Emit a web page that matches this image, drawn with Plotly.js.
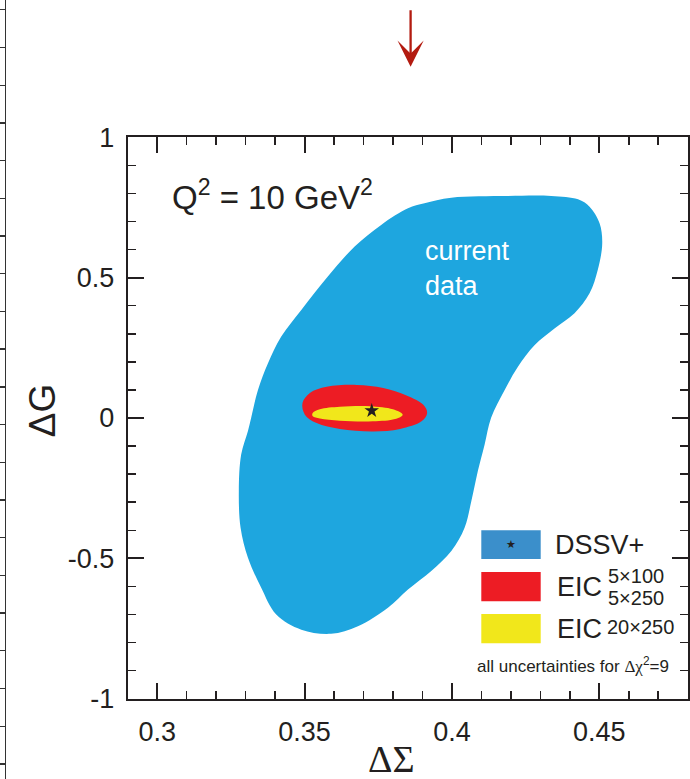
<!DOCTYPE html>
<html><head><meta charset="utf-8">
<script src="https://cdn.plot.ly/plotly-3.0.1.min.js"></script>
<style>html,body{margin:0;padding:0;background:#fff}</style>
</head><body><div id="chart" style="width:690px;height:779px"></div>
<script>
// DSSV+ current-data uncertainty region (Delta Sigma, Delta G)
const blobX = [0.3851,0.3760,0.3670,0.3579,0.3489,0.3421,0.3376,0.3342,0.3319,0.3308,0.3285,0.3277,0.3283,0.3308,0.3353,0.3404,0.3489,0.3590,0.3681,0.3783,0.3851,0.3930,0.3998,0.4043,0.4066,0.4088,0.4111,0.4133,0.4179,0.4224,0.4281,0.4348,0.4416,0.4467,0.4495,0.4510,0.4501,0.4467,0.4428,0.4337,0.4190,0.3998,0.3907,0.3851];
const blobY = [0.747,0.688,0.611,0.504,0.385,0.290,0.195,0.100,0.001,-0.046,-0.130,-0.260,-0.391,-0.498,-0.605,-0.700,-0.754,-0.769,-0.742,-0.676,-0.611,-0.545,-0.474,-0.391,-0.296,-0.189,-0.094,0.001,0.100,0.183,0.260,0.319,0.373,0.444,0.528,0.622,0.694,0.753,0.779,0.791,0.791,0.785,0.765,0.747];
// EIC 5x100 / 5x250 region
const redX = [0.3493,0.3518,0.3575,0.3677,0.3767,0.3846,0.3903,0.3916,0.3897,0.3824,0.3733,0.3620,0.3541,0.3501,0.3493];
const redY = [0.053,0.089,0.111,0.118,0.107,0.080,0.047,0.018,-0.012,-0.039,-0.048,-0.039,-0.018,0.012,0.053];
// EIC 20x250 region
const yellowX = [0.3527,0.3552,0.3620,0.3722,0.3800,0.3833,0.3807,0.3732,0.3620,0.3552,0.3528,0.3527];
const yellowY = [0.017,0.031,0.040,0.042,0.031,0.012,-0.004,-0.012,-0.010,-0.002,0.006,0.017];
// best fit
const starX = [0.3728];
const starY = [0.026];

const xTickVals = [0.3,0.35,0.4,0.45];
const xTickText = ['0.3','0.35','0.4','0.45'];
const yTickVals = [-1,-0.5,0,0.5,1];
const yTickText = ['-1','-0.5','0','0.5','1'];

const seriesNames = ['DSSV+','EIC 5×100 / 5×250','EIC 20×250'];
const colBlue = '#1ea6df', colRed = '#ed1c24', colYellow = '#f1e71b', colLegBlue = '#3b8fcb';
const ink = '#231f20';
const FONT = 'Liberation Sans, Arial, Helvetica, sans-serif';

const W = 690, H = 779;
const px = v => v / W;
const py = v => 1 - v / H;

const traces = [
  {x: blobX, y: blobY, type:'scatter', mode:'lines', fill:'toself', fillcolor: colBlue,
   line:{width:0, shape:'spline', smoothing:1, color: colBlue}, name: seriesNames[0], hoverinfo:'skip'},
  {x: redX, y: redY, type:'scatter', mode:'lines', fill:'toself', fillcolor: colRed,
   line:{width:0, shape:'spline', smoothing:1, color: colRed}, name: seriesNames[1], hoverinfo:'skip'},
  {x: yellowX, y: yellowY, type:'scatter', mode:'lines', fill:'toself', fillcolor: colYellow,
   line:{width:0, shape:'spline', smoothing:1, color: colYellow}, name: seriesNames[2], hoverinfo:'skip'},
  {x: starX, y: starY, type:'scatter', mode:'markers', marker:{symbol:'star', size:11, color: ink}, name:'best fit'},
  // fragment of the neighbouring panel's axis at the left edge
  {x: [], y: [], type:'scatter', xaxis:'x2', yaxis:'y2', showlegend:false}
];

const axisCommon = {
  showline:true, linewidth:2, linecolor: ink, mirror:'ticks', showgrid:false, zeroline:false,
  ticks:'inside', ticklen:16, tickwidth:2, tickcolor: ink,
  tickfont:{family: FONT, size:27, color: ink}, tickmode:'array'
};

const layout = {
  width: W, height: H, margin:{l:0,r:0,t:0,b:0}, paper_bgcolor:'#fff', plot_bgcolor:'rgba(0,0,0,0)',
  showlegend:false,
  xaxis: Object.assign({}, axisCommon, {
    domain:[px(127.7), px(687.7)], range:[0.29,0.48], tickvals: xTickVals, ticktext: xTickText,
    ticklabelstandoff: 8,
    minor:{tickmode:'linear', tick0:0.29, dtick:0.01, ticks:'inside', ticklen:8, tickwidth:1.5, tickcolor: ink, showgrid:false}
  }),
  yaxis: Object.assign({}, axisCommon, {
    domain:[py(698.7), py(137.3)], range:[-1,1], tickvals: yTickVals, ticktext: yTickText,
    ticklabelstandoff: 6,
    minor:{tickmode:'linear', tick0:-1, dtick:0.1, ticks:'inside', ticklen:8, tickwidth:1.5, tickcolor: ink, showgrid:false}
  }),
  xaxis2: {domain:[px(6), px(20)], visible:false, anchor:'y2', range:[0,1]},
  yaxis2: {domain:[0,1], anchor:'x2', side:'left', range:[-0.40, 20.26], dtick:1, tick0:0, tickmode:'linear',
    showline:true, linewidth:1.3, linecolor:'#333', ticks:'outside', ticklen:6, tickwidth:1.3, tickcolor:'#333',
    showticklabels:false, showgrid:false, zeroline:false},
  shapes: [
    {type:'rect', xref:'paper', yref:'paper', x0:px(481.3), x1:px(540.7), y0:py(559), y1:py(530.3), fillcolor: colLegBlue, line:{width:0}},
    {type:'rect', xref:'paper', yref:'paper', x0:px(481.3), x1:px(540.7), y0:py(601.3), y1:py(572), fillcolor: colRed, line:{width:0}},
    {type:'rect', xref:'paper', yref:'paper', x0:px(481.3), x1:px(540.7), y0:py(643.3), y1:py(614), fillcolor: colYellow, line:{width:0}}
  ],
  annotations: [
    {xref:'paper', yref:'paper', x:px(42.5), y:py(410.7), text:'ΔG', textangle:-90, showarrow:false,
     xanchor:'center', yanchor:'middle', font:{family: FONT, size:37, color: ink}},
    {xref:'paper', yref:'paper', x:px(391.7), y:py(759), text:'ΔΣ', showarrow:false,
     xanchor:'center', yanchor:'middle', font:{family:'Liberation Serif, Times New Roman, serif', size:38, color: ink}},
    {xref:'paper', yref:'paper', x:px(170), y:py(195), text:'Q<sup>2</sup> = 10 GeV<sup>2</sup>', showarrow:false,
     xanchor:'left', yanchor:'middle', font:{family: FONT, size:33, color: ink}},
    {xref:'paper', yref:'paper', x:px(423), y:py(268), text:'current<br>data', showarrow:false, align:'left',
     xanchor:'left', yanchor:'middle', font:{family: FONT, size:27, color:'#ffffff'}},
    {xref:'paper', yref:'paper', x:px(511.3), y:py(544.7), text:'★', showarrow:false,
     xanchor:'center', yanchor:'middle', font:{family:'DejaVu Sans', size:11, color: ink}},
    {xref:'paper', yref:'paper', x:px(553), y:py(544.7), text:'DSSV+', showarrow:false,
     xanchor:'left', yanchor:'middle', font:{family: FONT, size:27, color: ink}},
    {xref:'paper', yref:'paper', x:px(555), y:py(587), text:'EIC', showarrow:false,
     xanchor:'left', yanchor:'middle', font:{family: FONT, size:27, color: ink}},
    {xref:'paper', yref:'paper', x:px(605.5), y:py(575.5), text:'5×100', showarrow:false,
     xanchor:'left', yanchor:'middle', font:{family: FONT, size:20, color: ink}},
    {xref:'paper', yref:'paper', x:px(605.5), y:py(597.5), text:'5×250', showarrow:false,
     xanchor:'left', yanchor:'middle', font:{family: FONT, size:20, color: ink}},
    {xref:'paper', yref:'paper', x:px(555), y:py(629), text:'EIC', showarrow:false,
     xanchor:'left', yanchor:'middle', font:{family: FONT, size:27, color: ink}},
    {xref:'paper', yref:'paper', x:px(604.5), y:py(627), text:'20×250', showarrow:false,
     xanchor:'left', yanchor:'middle', font:{family: FONT, size:20, color: ink}},
    {xref:'paper', yref:'paper', x:px(671), y:py(665), text:'all uncertainties for <span style="font-family:Liberation Serif">Δχ</span><sup>2</sup>=9', showarrow:false,
     xanchor:'right', yanchor:'middle', font:{family: FONT, size:17, color: ink}},
    {xref:'paper', yref:'paper', x:px(410.6), y:py(66.7), text:'', showarrow:true, ax:0, ay:-58,
     arrowhead:3, arrowsize:1.9, arrowwidth:2.3, arrowcolor:'#b31b10', standoff:0}
  ]
};

Plotly.newPlot('chart', traces, layout, {displayModeBar:false, staticPlot:true});
</script>
</body></html>
